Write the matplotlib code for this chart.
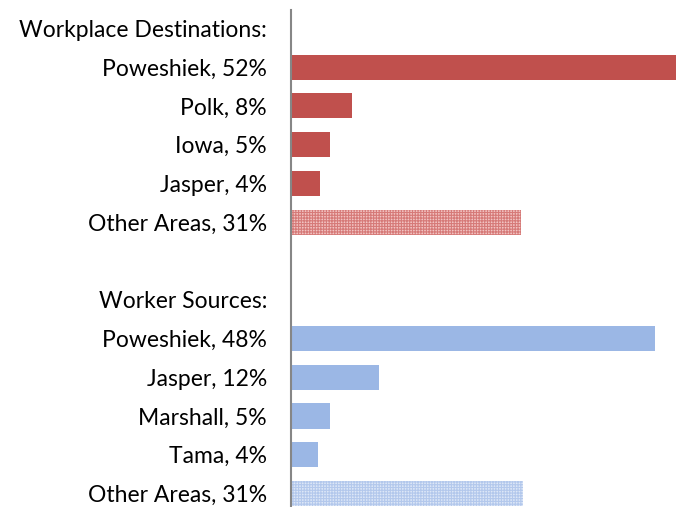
import matplotlib.pyplot as plt

plt.rcParams['font.family'] = ['Lato', 'DejaVu Sans']
plt.rcParams['hatch.linewidth'] = 0.8

# Rows, top to bottom (None value = header / spacer row)
labels = ['Workplace Destinations:', 'Poweshiek, 52%', 'Polk, 8%', 'Iowa, 5%', 'Jasper, 4%',
          'Other Areas, 31%', '', 'Worker Sources:', 'Poweshiek, 48%', 'Jasper, 12%',
          'Marshall, 5%', 'Tama, 4%', 'Other Areas, 31%']
values = [None, 52.0, 8.1, 5.3, 3.9, 30.7, None, None, 48.5, 11.7, 5.3, 3.7, 30.9]
groups = [None, 'dest', 'dest', 'dest', 'dest', 'dest_other', None, None,
          'src', 'src', 'src', 'src', 'src_other']

red = '#c0504d'
blue = '#9bb7e5'

fig = plt.figure(figsize=(6.76, 5.07), dpi=100)
ax = fig.add_axes([0.430, 0.0, 0.570, 0.980])

for i, (v, g) in enumerate(zip(values, groups)):
    if v is None:
        continue
    if g == 'dest':
        ax.barh(i, v, height=0.65, color=red, linewidth=0)
    elif g == 'src':
        ax.barh(i, v, height=0.65, color=blue, linewidth=0)
    elif g == 'dest_other':
        ax.barh(i, v, height=0.65, facecolor='#f2c4c3', edgecolor='#d67a78',
                hatch='++++++', linewidth=0)
    else:
        ax.barh(i, v, height=0.65, facecolor='#dde7f7', edgecolor='#b3c8ec',
                hatch='++++++', linewidth=0)

ax.set_xlim(0, 51.3)
ax.set_ylim(12.35, -0.47)
ax.set_yticks(range(len(labels)))
ax.set_yticklabels(labels, fontsize=16.5, color='#000000')
ax.tick_params(axis='y', length=0, pad=17)
ax.set_xticks([])
for s in ['top', 'right', 'bottom']:
    ax.spines[s].set_visible(False)
ax.spines['left'].set_color('#868686')
ax.spines['left'].set_linewidth(1.5)

plt.savefig('out.png', dpi=100)
